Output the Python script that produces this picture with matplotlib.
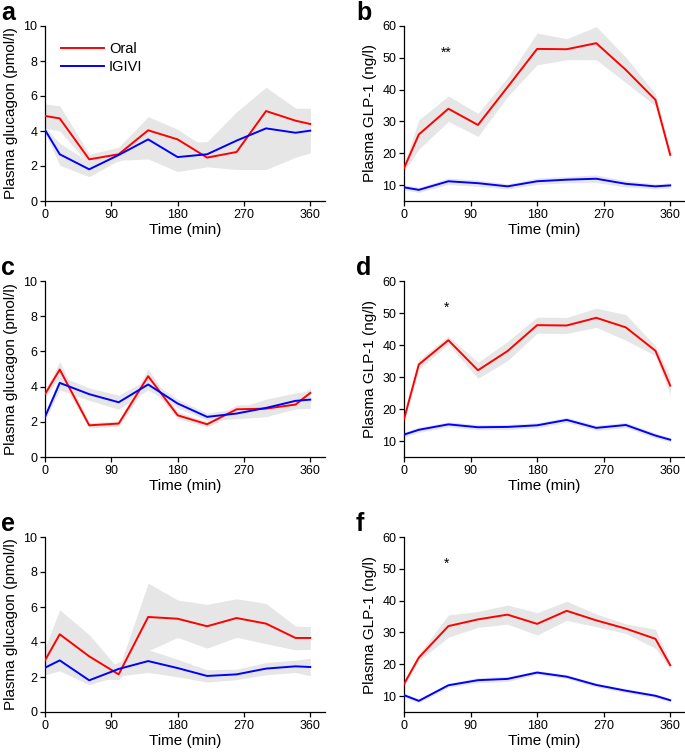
import numpy as np
import matplotlib
matplotlib.use("Agg")
import matplotlib.pyplot as plt

plt.rcParams['font.family'] = ['Liberation Sans', 'DejaVu Sans']

# sampling times (min)
time = [0, 20, 60, 100, 140, 180, 220, 260, 300, 340, 360]

# glucagon (pmol/l): mean and SEM, oral vs IGIVI
glu_a_oral = [4.86, 4.72, 2.38, 2.67, 4.04, 3.52, 2.48, 2.80, 5.14, 4.59, 4.40]
glu_a_oral_sem = [0.69, 0.72, 0.30, 0.40, 0.78, 0.58, 0.50, 0.60, 1.30, 0.70, 0.90]
glu_a_iv = [4.06, 2.67, 1.81, 2.63, 3.52, 2.51, 2.67, 3.45, 4.15, 3.90, 4.02]
glu_a_iv_sem = [0.15, 0.63, 0.42, 0.30, 1.12, 0.83, 0.72, 1.65, 2.35, 1.40, 1.27]

glu_c_oral = [3.57, 4.97, 1.80, 1.90, 4.59, 2.37, 1.86, 2.71, 2.75, 2.98, 3.64]
glu_c_oral_sem = [0.20, 0.45, 0.15, 0.15, 0.40, 0.20, 0.15, 0.25, 0.25, 0.25, 0.30]
glu_c_iv = [2.28, 4.21, 3.57, 3.11, 4.12, 3.04, 2.28, 2.47, 2.79, 3.19, 3.26]
glu_c_iv_sem = [0.15, 0.40, 0.35, 0.40, 0.30, 0.25, 0.20, 0.30, 0.50, 0.45, 0.50]

glu_e_oral = [2.95, 4.44, 3.18, 2.15, 5.43, 5.33, 4.90, 5.37, 5.05, 4.23, 4.23]
glu_e_oral_sem = [0.70, 1.40, 1.24, 0.30, 1.93, 1.07, 1.25, 1.10, 1.15, 0.68, 0.65]
glu_e_iv = [2.53, 2.95, 1.81, 2.46, 2.91, 2.51, 2.06, 2.15, 2.48, 2.61, 2.57]
glu_e_iv_sem = [0.40, 0.60, 0.25, 0.40, 0.65, 0.50, 0.35, 0.30, 0.35, 0.35, 0.50]

# GLP-1 (ng/l)
glp_b_oral = [15.3, 25.9, 34.0, 28.9, 40.8, 52.8, 52.7, 54.6, 46.2, 36.8, 19.5]
glp_b_oral_sem = [1.0, 4.6, 4.0, 3.6, 3.0, 5.0, 3.3, 5.2, 4.0, 1.9, 1.5]
glp_b_iv = [9.3, 8.5, 11.2, 10.6, 9.6, 11.2, 11.7, 12.0, 10.4, 9.6, 9.9]
glp_b_iv_sem = [0.8, 0.8, 1.0, 1.0, 0.8, 1.0, 1.0, 1.2, 1.0, 0.8, 0.8]

glp_d_oral = [16.8, 33.9, 41.5, 32.1, 38.1, 46.2, 46.1, 48.5, 45.5, 38.2, 27.3]
glp_d_oral_sem = [0.5, 1.5, 1.3, 2.5, 3.0, 2.5, 2.5, 3.0, 4.0, 1.5, 3.0]
glp_d_iv = [12.0, 13.5, 15.2, 14.3, 14.4, 14.9, 16.6, 14.1, 15.0, 11.7, 10.4]
glp_d_iv_sem = [0.8, 0.8, 0.8, 0.8, 0.8, 0.8, 0.8, 0.8, 0.8, 0.8, 0.6]

glp_f_oral = [13.8, 22.1, 32.0, 34.1, 35.6, 32.7, 36.8, 33.8, 31.2, 28.0, 19.7]
glp_f_oral_sem = [0.5, 1.0, 3.5, 2.5, 3.0, 3.5, 3.0, 2.0, 1.5, 3.0, 1.0]
glp_f_iv = [10.3, 8.5, 13.4, 15.0, 15.4, 17.4, 16.1, 13.5, 11.7, 10.1, 8.7]
glp_f_iv_sem = [0.6, 0.6, 0.6, 0.8, 0.8, 0.6, 0.6, 0.6, 0.6, 0.6, 0.5]

stars = {'b': '**', 'd': '*', 'f': '*'}

W, H = 685, 753
fig = plt.figure(figsize=(W / 100, H / 100), dpi=100)


def px_axes(left, top, right, bottom):
    return fig.add_axes([left / W, 1 - bottom / H, (right - left) / W, (bottom - top) / H])


def draw(ax, oral, oral_sem, iv, iv_sem, glp):
    t = np.array(time)
    for m, s in ((oral, oral_sem), (iv, iv_sem)):
        m = np.array(m)
        s = np.array(s)
        ax.fill_between(t, m - s, m + s, color='#e6e6e6', lw=0, zorder=1)
    ax.plot(t, oral, color='#ff0000', lw=1.4, zorder=3, label='Oral')
    ax.plot(t, iv, color='#0000ff', lw=1.4, zorder=3, label='IGIVI')
    ax.set_xlim(0, 380)
    ax.set_xticks([0, 90, 180, 270, 360])
    if glp:
        ax.set_ylim(5, 60)
        ax.set_yticks([10, 20, 30, 40, 50, 60])
        ax.set_ylabel('Plasma GLP-1 (ng/l)', fontsize=11, labelpad=4)
    else:
        ax.set_ylim(0, 10)
        ax.set_yticks([0, 2, 4, 6, 8, 10])
        ax.set_ylabel('Plasma glucagon (pmol/l)', fontsize=11, labelpad=4)
    ax.set_xlabel('Time (min)', fontsize=11, labelpad=2)
    for side in ('top', 'right'):
        ax.spines[side].set_visible(False)
    for side in ('left', 'bottom'):
        ax.spines[side].set_linewidth(0.9)
    ax.tick_params(labelsize=9, length=3.5, width=0.9, pad=2)


rows = [(26, 201), (281, 457), (537, 712)]
panels = [
    ('a', glu_a_oral, glu_a_oral_sem, glu_a_iv, glu_a_iv_sem, False),
    ('b', glp_b_oral, glp_b_oral_sem, glp_b_iv, glp_b_iv_sem, True),
    ('c', glu_c_oral, glu_c_oral_sem, glu_c_iv, glu_c_iv_sem, False),
    ('d', glp_d_oral, glp_d_oral_sem, glp_d_iv, glp_d_iv_sem, True),
    ('e', glu_e_oral, glu_e_oral_sem, glu_e_iv, glu_e_iv_sem, False),
    ('f', glp_f_oral, glp_f_oral_sem, glp_f_iv, glp_f_iv_sem, True),
]

for i, (letter, o, os_, v, vs, glp) in enumerate(panels):
    top, bottom = rows[i // 2]
    if glp:
        ax = px_axes(404, top, 685, bottom)
        lx = 356
    else:
        ax = px_axes(45, top, 325, bottom)
        lx = 1
    draw(ax, o, os_, v, vs, glp)
    fig.text(lx / W, 1 - (top - 6) / H, letter, fontsize=18, fontweight='bold',
             ha='left', va='baseline')
    if letter in stars:
        ax.text(57, 51.5, stars[letter], fontsize=10, ha='center', va='center')
    if letter == 'a':
        ax.legend(loc='upper left', bbox_to_anchor=(0.035, 0.94), frameon=False,
                  fontsize=10.5, handlelength=3.0, handletextpad=0.3,
                  labelspacing=0.25, borderaxespad=0)

fig.savefig('out.png', dpi=100)
